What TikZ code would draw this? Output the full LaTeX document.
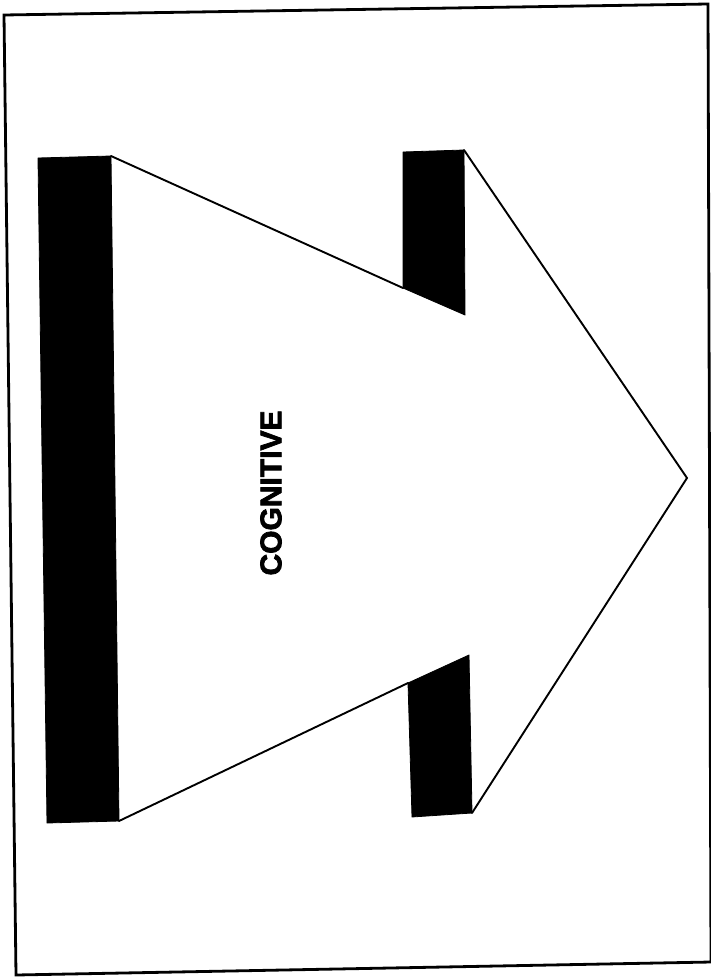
\documentclass[tikz,border=0pt]{standalone}
\usepackage{fontspec}
\setmainfont{Liberation Sans}
\newfontfamily\heavyfont[FakeBold=2.5]{Liberation Sans Bold}
\begin{document}
\begin{tikzpicture}[x=1pt,y=-1pt,
  frame/.style={draw=black,line width=2.8pt,line join=miter},
  bar/.style={fill=black,draw=black,line width=0.8pt,line join=round},
  edge/.style={draw=black,line width=1.9pt,line cap=round,line join=miter},
  label/.style={font=\heavyfont\fontsize{30}{30}\selectfont,rotate=90,inner sep=0pt}]
\useasboundingbox (0,0) rectangle (711,977);
\fill[white] (0,0) rectangle (711,977);
% frame
\draw[frame] (4,15) -- (708,4) -- (711,962) -- (16,975) -- cycle;
% coordinates
\coordinate (LTL) at (38,158);
\coordinate (LTR) at (111,156);
\coordinate (LBR) at (119,821);
\coordinate (LBL) at (47,823);
\coordinate (UTL) at (403,152);
\coordinate (UTR) at (464,150);
\coordinate (UBR) at (465,315);
\coordinate (UBL) at (403,288);
\coordinate (DTL) at (408,683);
\coordinate (DTR) at (469,655);
\coordinate (DBR) at (472,813);
\coordinate (DBL) at (412,817);
\coordinate (tip) at (687,478);
% black bars
\path[bar] (LTL) -- (LTR) -- (LBR) -- (LBL) -- cycle;
\path[bar] (UTL) -- (UTR) -- (UBR) -- (UBL) -- cycle;
\path[bar] (DTL) -- (DTR) -- (DBR) -- (DBL) -- cycle;
% arrow outline
\draw[edge] (LTR) -- (UBL);
\draw[edge] (LBR) -- (DTL);
\draw[edge] (UTR) -- (tip) -- (DBR);
% label
\node[label] (cog) at (271,493) {COGNITIVE};
\end{tikzpicture}
\end{document}
